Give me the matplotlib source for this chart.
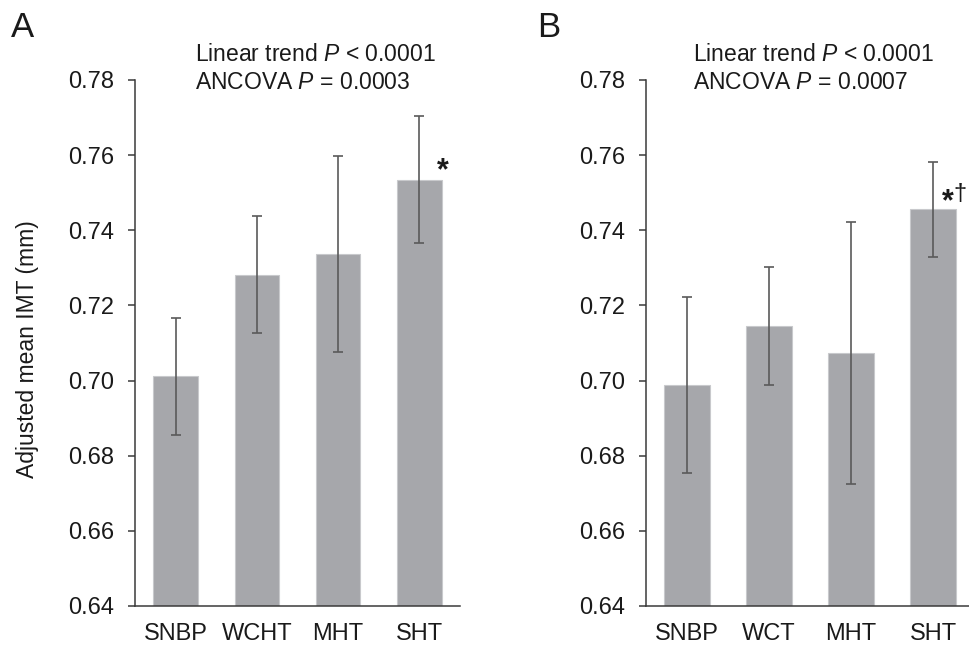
import matplotlib
matplotlib.use("Agg")
import matplotlib.pyplot as plt
import numpy as np

plt.rcParams['font.family'] = ['Liberation Sans', 'DejaVu Sans']
plt.rcParams['mathtext.fontset'] = 'custom'
plt.rcParams['mathtext.rm'] = 'Liberation Sans'
plt.rcParams['mathtext.it'] = 'Liberation Sans:italic'

# Data
cats_a = ["SNBP", "WCHT", "MHT", "SHT"]
means_a = [0.7011, 0.7282, 0.7337, 0.7535]
err_a = [0.0156, 0.0156, 0.0262, 0.0168]

cats_b = ["SNBP", "WCT", "MHT", "SHT"]
means_b = [0.6989, 0.7144, 0.7074, 0.7456]
err_b = [0.0234, 0.0157, 0.0348, 0.0126]

yticks = [0.64, 0.66, 0.68, 0.70, 0.72, 0.74, 0.76, 0.78]
ylabel = "Adjusted mean IMT (mm)"
notes_a = ["Linear trend $P$ < 0.0001", "ANCOVA $P$ = 0.0003"]
notes_b = ["Linear trend $P$ < 0.0001", "ANCOVA $P$ = 0.0007"]

W, H = 969, 646
fig = plt.figure(figsize=(W / 100, H / 100), dpi=100)

bar_color = "#a6a7ab"
edge_color = "#c8c9cc"
axis_color = "#3a3a3a"
err_color = "#5a5a5a"
text_color = "#1a1a1a"

def px_rect(left, top, right, bottom):
    return [left / W, 1 - bottom / H, (right - left) / W, (bottom - top) / H]

ax_a = fig.add_axes(px_rect(135, 80, 460, 606))
ax_b = fig.add_axes(px_rect(646, 80, 974, 606))

def style(ax, cats, means, errs):
    x = np.arange(len(cats))
    ax.bar(x, means, width=0.55, color=bar_color, edgecolor=edge_color,
           linewidth=0.8, zorder=2)
    ax.errorbar(x, means, yerr=errs, fmt='none', ecolor=err_color,
                elinewidth=1.2, capsize=3.5, capthick=1.2, zorder=3)
    ax.set_xlim(-0.5, len(cats) - 0.5)
    ax.set_ylim(0.64, 0.78)
    ax.set_yticks(yticks)
    ax.set_yticklabels([f"{v:.2f}" for v in yticks])
    ax.set_xticks(x)
    ax.set_xticklabels(cats)
    for s in ["top", "right"]:
        ax.spines[s].set_visible(False)
    for s in ["left", "bottom"]:
        ax.spines[s].set_color(axis_color)
        ax.spines[s].set_linewidth(1.1)
    ax.tick_params(axis='y', length=5, width=1.1, color=axis_color,
                   labelsize=17, pad=10, labelcolor=text_color)
    ax.tick_params(axis='x', length=0, labelsize=17, pad=12,
                   labelcolor=text_color)

style(ax_a, cats_a, means_a, err_a)
style(ax_b, cats_b, means_b, err_b)

# annotations
for ax, notes, x0 in [(ax_a, notes_a, 0.238), (ax_b, notes_b, 0.07)]:
    ax.text(x0, 0.7850, notes[0], fontsize=16.5, ha='left', va='baseline',
            color=text_color)
    ax.text(x0, 0.7776, notes[1], fontsize=16.5, ha='left', va='baseline',
            color=text_color)

# significance marks
ax_a.text(3.285, 0.7598, "*", fontsize=22, fontweight='bold', ha='center',
          va='top', color=text_color)
ax_b.text(3.18, 0.7515, "*", fontsize=22, fontweight='bold', ha='center',
          va='top', color=text_color)
ax_b.text(3.255, 0.7526, "\u2020", fontsize=17, ha='left', va='top',
          color=text_color)

# panel letters
fig.text(11 / W, 1 - 37 / H, "A", fontsize=25, ha='left', va='baseline',
         color=text_color)
fig.text(537 / W, 1 - 37 / H, "B", fontsize=25, ha='left', va='baseline',
         color=text_color)

# y label
fig.text(27.5 / W, 1 - 349 / H, ylabel, fontsize=16.5, rotation=90,
         ha='center', va='center', color=text_color)

fig.savefig("out.png", dpi=100)
